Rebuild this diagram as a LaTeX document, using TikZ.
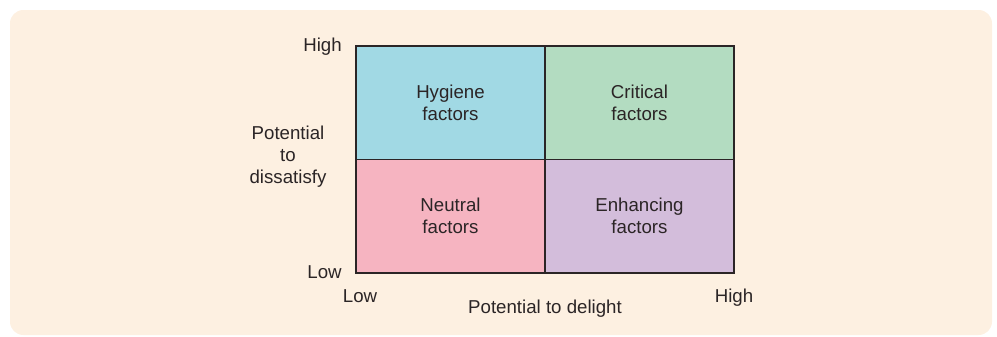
\documentclass[tikz,border=0pt]{standalone}
\usepackage{fontspec}
\setmainfont{Liberation Sans}
\definecolor{bgpeach}{HTML}{FDF0E1}
\definecolor{hygblue}{HTML}{A1D9E4}
\definecolor{critgreen}{HTML}{B3DCC1}
\definecolor{neutpink}{HTML}{F6B4C1}
\definecolor{enhpurple}{HTML}{D3BDDB}
\definecolor{inkgray}{HTML}{2B2526}
\tikzset{
  quad/.style={draw=inkgray, line width=0.8pt, inner sep=0pt,
    minimum width=141.75pt, minimum height=85.1pt, align=center,
    text=inkgray, font=\fontsize{14}{16.5}\selectfont},
  axislabel/.style={text=inkgray, inner sep=0pt, align=center,
    font=\fontsize{14}{16.5}\selectfont}
}
\begin{document}
\begin{tikzpicture}[x=0.75pt,y=-0.75pt]

%Background
\useasboundingbox (0,0) rectangle (997,336);
\fill [bgpeach, rounded corners=10pt] (10,10) rectangle (992,335);

%Quadrants
\node [quad, fill=hygblue]   (hygiene)   at (450.5,102.75) {Hygiene\\factors};
\node [quad, fill=critgreen] (critical)  at (639.5,102.75) {Critical\\factors};
\node [quad, fill=neutpink]  (neutral)   at (450.5,216.25) {Neutral\\factors};
\node [quad, fill=enhpurple] (enhancing) at (639.5,216.25) {Enhancing\\factors};

%Axis labels
\node [axislabel, anchor=base east] (yhigh) at (342,51)  {High};
\node [axislabel, anchor=base east] (ylow)  at (342,278) {Low};
\node [axislabel] (ytitle) at (288,157) {Potential\\to\\dissatisfy};
\node [axislabel, anchor=base] (xlow)  at (360,302) {Low};
\node [axislabel, anchor=base] (xhigh) at (734,302) {High};
\node [axislabel, anchor=base] (xtitle) at (545,313) {Potential to delight};

\end{tikzpicture}
\end{document}
